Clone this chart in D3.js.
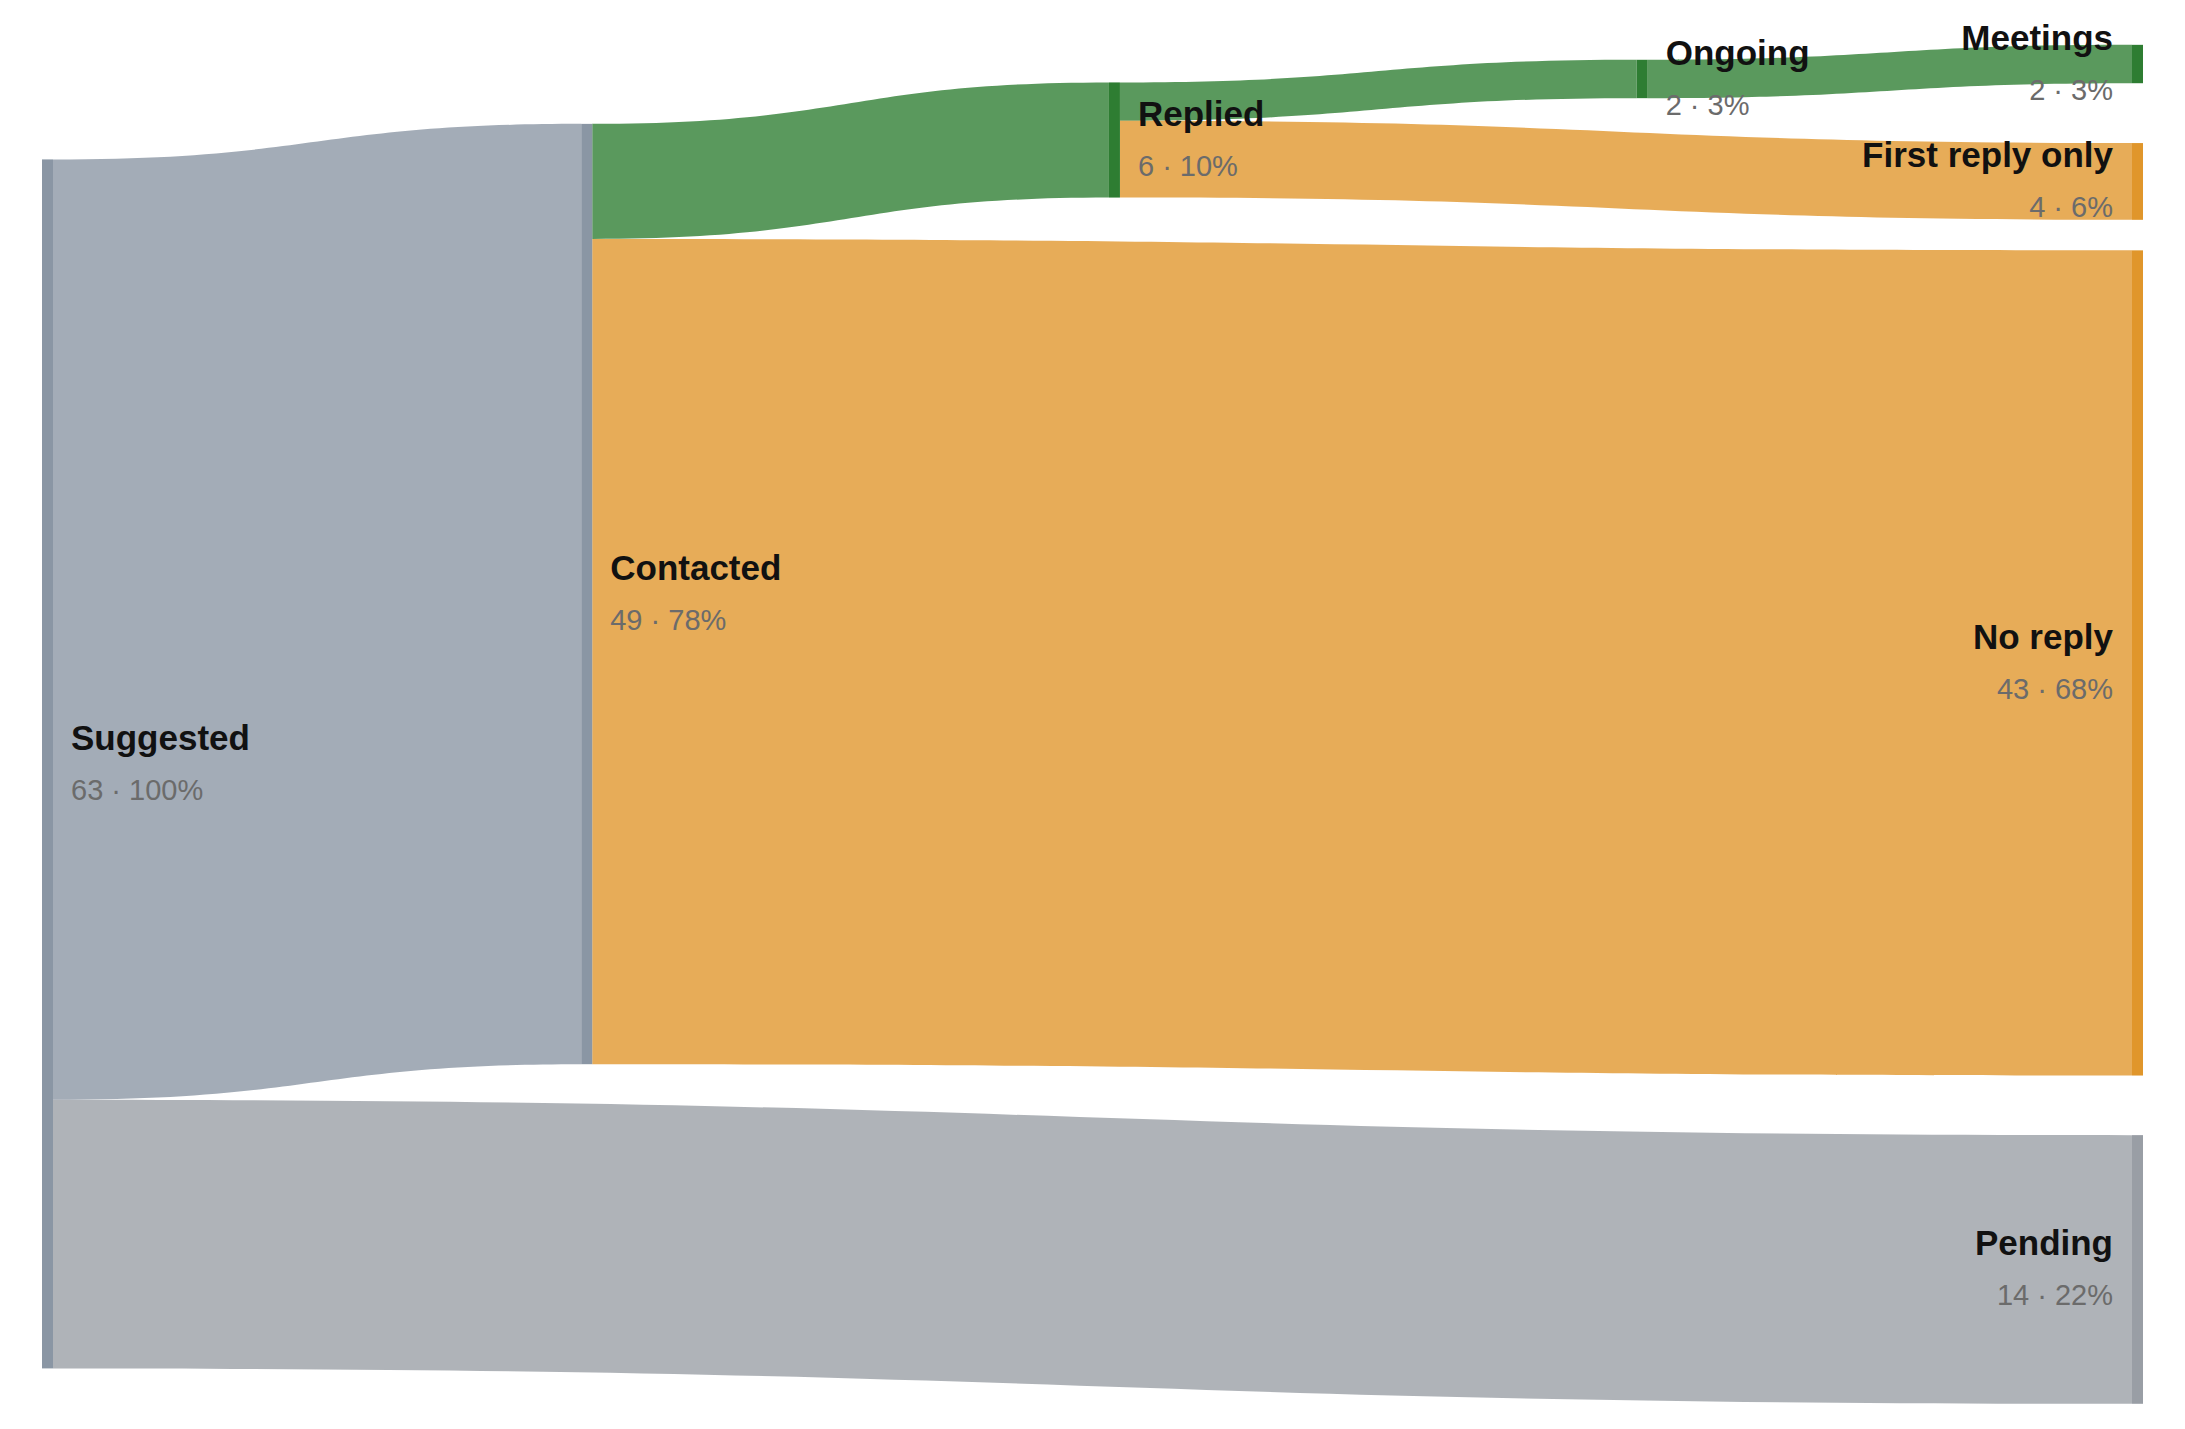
<!DOCTYPE html>
<html>
<head>
<meta charset="utf-8">
<script src="https://cdn.jsdelivr.net/npm/d3@7"></script>
<style>
  html, body { margin: 0; padding: 0; background: #ffffff; }
  svg { display: block; }
</style>
</head>
<body>
<svg id="chart" width="2185" height="1429"></svg>
<script>
// ---------------- DATA ----------------
const nodeNames  = ["Suggested", "Contacted", "Pending", "Replied", "No reply", "Ongoing", "First reply only", "Meetings"];
const nodeGroups = ["base", "base", "pending", "positive", "negative", "positive", "negative", "positive"];
const linkSources = ["Suggested", "Suggested", "Contacted", "Contacted", "Replied", "Replied", "Ongoing"];
const linkTargets = ["Contacted", "Pending", "Replied", "No reply", "Ongoing", "First reply only", "Meetings"];
const linkValues  = [49, 14, 6, 43, 2, 4, 2];

// ---------------- LAYOUT SETTINGS ----------------
const W = 2185, H = 1429;
const margin = { top: 45, right: 42, bottom: 25, left: 42 };
const nodeWidth = 11;
const nodePadding = 50;
const columnFractions = [0, 0.258, 0.5105, 0.763, 1];          // horizontal placement of the stages
const nodeAnchors = [0.529, 0.404, 0.901, 0.0699, 0.4547, 0.025, 0.1004, 0.014]; // vertical node centres (fraction of plot height)
const groupColors = { base: "#8a96a4", pending: "#999ea5", positive: "#2e7d32", negative: "#e0962b" };
const linkOpacity = 0.79;
const fontFamily = "'Liberation Sans', Arial, Helvetica, sans-serif";

// ---------------- BUILD GRAPH ----------------
const nodes = nodeNames.map((name, i) => ({ name, group: nodeGroups[i], anchor: nodeAnchors[i], sourceLinks: [], targetLinks: [] }));
const byName = new Map(nodes.map(n => [n.name, n]));
const links = linkValues.map((v, i) => {
  const l = { source: byName.get(linkSources[i]), target: byName.get(linkTargets[i]), value: v };
  l.source.sourceLinks.push(l);
  l.target.targetLinks.push(l);
  return l;
});
nodes.forEach(n => {
  n.value = Math.max(d3.sum(n.sourceLinks, l => l.value), d3.sum(n.targetLinks, l => l.value));
});
const total = d3.max(nodes.filter(n => n.targetLinks.length === 0), n => n.value);

// depth (longest path from a source)
function depthOf(n) {
  if (n.depth !== undefined) return n.depth;
  n.depth = n.targetLinks.length ? d3.max(n.targetLinks, l => depthOf(l.source) + 1) : 0;
  return n.depth;
}
nodes.forEach(depthOf);
const maxDepth = d3.max(nodes, n => n.depth);
// justify: sinks go to the last column
nodes.forEach(n => { n.column = n.sourceLinks.length ? n.depth : maxDepth; });

const columns = d3.groups(nodes, n => n.column).map(d => d[1]);
const maxColCount = d3.max(columns, c => c.length);
const maxColSum = d3.max(columns, c => d3.sum(c, n => n.value));

// scales
const plotTop = margin.top, plotBottom = H - margin.bottom;
const xScale = d3.scaleLinear().domain([0, 1]).range([margin.left, W - margin.right - nodeWidth]);
const yScale = d3.scaleLinear().domain([0, 1]).range([plotTop, plotBottom]);
const kScale = d3.scaleLinear().domain([0, maxColSum])
  .range([0, (plotBottom - plotTop) - (maxColCount - 1) * nodePadding]);

nodes.forEach(n => {
  n.x0 = xScale(columnFractions[n.column]);
  n.x1 = n.x0 + nodeWidth;
  const h = kScale(n.value);
  const c = yScale(n.anchor);
  n.y0 = c - h / 2;
  n.y1 = c + h / 2;
});

// link slots
links.forEach(l => l.width = kScale(l.value));
nodes.forEach(n => {
  n.sourceLinks.sort((a, b) => a.target.y0 - b.target.y0);
  n.targetLinks.sort((a, b) => a.source.y0 - b.source.y0);
  let y = n.y0;
  n.sourceLinks.forEach(l => { l.sy0 = y; y += l.width; l.sy1 = y; });
  y = n.y0;
  n.targetLinks.forEach(l => { l.ty0 = y; y += l.width; l.ty1 = y; });
});

// ---------------- DRAW ----------------
const svg = d3.select("#chart");

function bandPath(l) {
  const x0 = l.source.x1, x1 = l.target.x0, xm = (x0 + x1) / 2;
  const p = d3.path();
  p.moveTo(x0, l.sy0);
  p.bezierCurveTo(xm, l.sy0, xm, l.ty0, x1, l.ty0);
  p.lineTo(x1, l.ty1);
  p.bezierCurveTo(xm, l.ty1, xm, l.sy1, x0, l.sy1);
  p.closePath();
  return p.toString();
}

svg.append("g").attr("class", "links")
  .selectAll("path").data(links).join("path")
  .attr("d", bandPath)
  .attr("fill", l => groupColors[l.target.group])
  .attr("fill-opacity", linkOpacity);

svg.append("g").attr("class", "nodes")
  .selectAll("rect").data(nodes).join("rect")
  .attr("x", n => n.x0)
  .attr("y", n => n.y0)
  .attr("width", n => n.x1 - n.x0)
  .attr("height", n => n.y1 - n.y0)
  .attr("fill", n => groupColors[n.group]);

const fmtPct = v => Math.round(v / total * 100) + "%";
const labels = svg.append("g").attr("class", "labels")
  .style("font-family", fontFamily)
  .selectAll("g").data(nodes).join("g")
  .attr("transform", n => {
    const right = n.column === maxDepth;
    const x = right ? n.x0 - 19 : n.x1 + 18;
    return `translate(${x},${(n.y0 + n.y1) / 2})`;
  })
  .attr("text-anchor", n => n.column === maxDepth ? "end" : "start");

labels.append("text")
  .attr("y", -14)
  .attr("font-size", 35)
  .attr("font-weight", "bold")
  .attr("fill", "#111111")
  .text(n => n.name);

labels.append("text")
  .attr("y", 36)
  .attr("font-size", 29)
  .attr("fill", "#6b6b6b")
  .text(n => `${n.value} \u00b7 ${fmtPct(n.value)}`);
</script>
</body>
</html>
